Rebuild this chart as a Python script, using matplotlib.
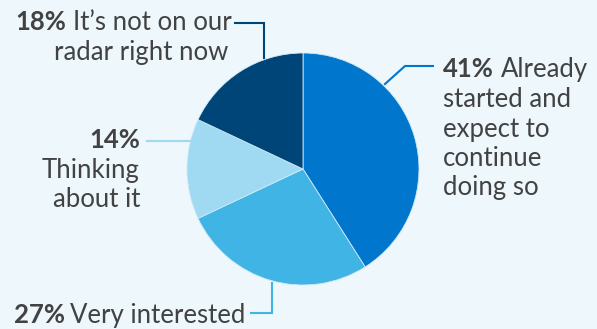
import matplotlib.pyplot as plt

values = [41, 27, 14, 18]
pcts = ["41%", "27%", "14%", "18%"]
colors = ["#0077CC", "#41B4E6", "#A0DAF2", "#004578"]

BG = "#EDF7FC"
TXT = "#424242"
W, H = 597, 329
FS = 18.5
FONT = "Lato"

fig = plt.figure(figsize=(W / 100, H / 100), dpi=100, facecolor=BG)
ax = fig.add_axes([0, 0, 1, 1])


def py(y):
    # pixel row (from top) -> data y
    return H - y


ax.pie(values, colors=colors, startangle=90, counterclock=False,
       center=(303, py(169)), radius=116, frame=True,
       wedgeprops=dict(edgecolor="#cfe9f7", linewidth=0.6))
ax.set_xlim(0, W)
ax.set_ylim(0, H)
ax.set_aspect("equal")
ax.axis("off")

renderer = fig.canvas.get_renderer()


def mixed_line(x, y, bold, rest, gap=7):
    t = ax.text(x, py(y), bold, fontsize=FS, fontweight="bold", family=FONT,
                color=TXT, va="baseline", ha="left")
    w = t.get_window_extent(renderer=renderer).width
    ax.text(x + w + gap, py(y), rest, fontsize=FS, family=FONT,
            color=TXT, va="baseline", ha="left")


def plain(x, y, s, ha="left", bold=False):
    ax.text(x, py(y), s, fontsize=FS, family=FONT, color=TXT, va="baseline",
            ha=ha, fontweight="bold" if bold else "normal")


# 18% label
mixed_line(15, 30, pcts[3], "It\u2019s not on our")
plain(228, 60, "radar right now", ha="right")
ax.plot([235, 264, 264], [py(23), py(23), py(58)], color=colors[3], lw=1.5,
        solid_joinstyle="miter")

# 41% label
mixed_line(443, 77, pcts[0], "Already")
for i, s in enumerate(["started and", "expect to", "continue", "doing so"]):
    plain(443, 107 + i * 29.5, s)
ax.plot([385, 405, 433], [py(84), py(66), py(66)], color=colors[0], lw=1.5,
        solid_joinstyle="miter")

# 14% label
plain(140, 148, pcts[2], ha="right", bold=True)
plain(140, 178, "Thinking", ha="right")
plain(140, 207, "about it", ha="right")
ax.plot([147, 190], [py(141), py(141)], color=colors[2], lw=1.5)

# 27% label
mixed_line(14, 323, pcts[1], "Very interested", gap=5)
ax.plot([251, 272, 272], [py(313), py(313), py(283)], color=colors[1], lw=1.5,
        solid_joinstyle="miter")

fig.savefig("out.png", dpi=100, facecolor=BG)
